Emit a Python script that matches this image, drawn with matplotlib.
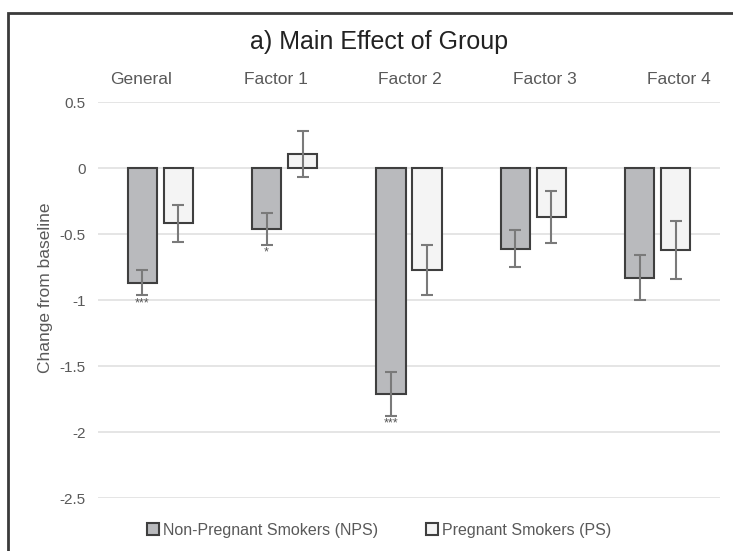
import numpy as np
import matplotlib
matplotlib.use("Agg")
import matplotlib.pyplot as plt
from matplotlib.patches import Rectangle

plt.rcParams["font.family"] = ["Liberation Sans", "DejaVu Sans"]

categories = ["General", "Factor 1", "Factor 2", "Factor 3", "Factor 4"]
nps_mean = [-0.87, -0.46, -1.71, -0.61, -0.83]
nps_err = [0.095, 0.12, 0.165, 0.14, 0.17]
ps_mean = [-0.42, 0.105, -0.77, -0.37, -0.62]
ps_err = [0.14, 0.175, 0.19, 0.195, 0.22]
nps_sig = ["***", "*", "***", "", ""]
series_names = ["Non-Pregnant Smokers (NPS)", "Pregnant Smokers (PS)"]

TXT = "#595959"
fig = plt.figure(figsize=(7.33, 5.51), dpi=100)
ax = fig.add_axes([98 / 733, 1 - 498 / 551, 622 / 733, 396 / 551])

# outer frame (cut off at right and bottom like the source image)
fig.patches.append(Rectangle((8 / 733, -0.1), 1.2, 1 - 13 / 551 + 0.1, transform=fig.transFigure,
                             fill=False, edgecolor="#3a3a3a", linewidth=2))

x = np.arange(len(categories))
w = 0.235
off = 0.145
err_kw = dict(ecolor="#7a7a7a", elinewidth=1.5, capsize=4, capthick=1.5)
ax.bar(x - off, nps_mean, w, yerr=nps_err, color="#b9babd", edgecolor="#3f3f3f", linewidth=1.5,
       label=series_names[0], error_kw=err_kw, zorder=3)
ax.bar(x + off, ps_mean, w, yerr=ps_err, color="#f4f4f4", edgecolor="#3f3f3f", linewidth=1.5,
       label=series_names[1], error_kw=err_kw, zorder=3)

for i, s in enumerate(nps_sig):
    if s:
        ax.text(x[i] - off, nps_mean[i] - nps_err[i] - 0.015, s, ha="center", va="top",
                fontsize=9, color="#555555")

ax.set_ylim(-2.5, 0.5)
ax.set_xlim(-0.5, len(categories) - 0.5)
ax.set_yticks([0.5, 0, -0.5, -1, -1.5, -2, -2.5])
ax.set_yticklabels(["0.5", "0", "-0.5", "-1", "-1.5", "-2", "-2.5"])
ax.tick_params(axis="y", length=0, labelsize=11, labelcolor=TXT, pad=9)
ax.yaxis.grid(True, color="#e0e0e0", linewidth=1.2, zorder=0)
ax.set_axisbelow(True)
for sp in ax.spines.values():
    sp.set_visible(False)

# category labels sit at the top, slightly offset as in the source
ax.set_xticks([])
label_pos = x * 1.08 - 0.15
for p, c in zip(label_pos, categories):
    ax.text(p, 0.5 + 0.17, c, ha="center", va="center", fontsize=12.5, color=TXT)

ax.set_ylabel("Change from baseline", fontsize=12.5, color=TXT)
ax.yaxis.set_label_coords(-(98 - 53) / 622, 0.53)
fig.text(379 / 733, 1 - 42 / 551, "a) Main Effect of Group", ha="center", va="center",
         fontsize=18, color="#222222")

leg = ax.legend(loc="center", bbox_to_anchor=(379 / 733, 1 - 530 / 551), bbox_transform=fig.transFigure,
                ncol=2, frameon=False, fontsize=11.5, handlelength=0.75, handleheight=0.75,
                handletextpad=0.25, columnspacing=3.0)
for t in leg.get_texts():
    t.set_color(TXT)

fig.savefig("out.png", dpi=100)
